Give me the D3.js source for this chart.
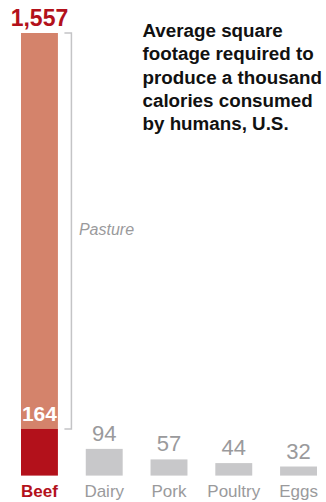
<!DOCTYPE html>
<html>
<head>
<meta charset="utf-8">
<script src="https://cdn.jsdelivr.net/npm/d3@7"></script>
<style>
  html, body { margin: 0; padding: 0; background: #fff; }
  svg { display: block; font-family: "Liberation Sans", Arial, Helvetica, sans-serif; }
</style>
</head>
<body>
<svg id="chart" width="326" height="502"></svg>
<script>
// square feet per 1,000 calories
const categories = ["Beef", "Dairy", "Pork", "Poultry", "Eggs"];
const totals = [1557, 94, 57, 44, 32];
const cropland = [164, 94, 57, 44, 32]; // beef split: cropland part vs pasture
const titleLines = ["Average square", "footage required to", "produce a thousand", "calories consumed", "by humans, U.S."];

const svg = d3.select("#chart");
const baseY = 475.6, topY = 33;

const x = d3.scaleBand()
    .domain(categories)
    .range([21, 317])
    .paddingInner(0.43)
    .paddingOuter(0);

const y = d3.scaleLinear()
    .domain([0, totals[0]])
    .range([baseY, topY]);

const data = categories.map((c, i) => ({ cat: c, total: totals[i], crop: cropland[i] }));
const beef = data[0];

// beef: pasture on top, cropland in red
svg.append("rect")
    .attr("x", x("Beef"))
    .attr("y", y(beef.total))
    .attr("width", x.bandwidth())
    .attr("height", y(beef.crop) - y(beef.total))
    .attr("fill", "#d4836b");

svg.selectAll("rect.bar")
    .data(data)
    .enter()
    .append("rect")
    .attr("class", "bar")
    .attr("x", d => x(d.cat))
    .attr("y", d => y(d.crop))
    .attr("width", x.bandwidth())
    .attr("height", d => baseY - y(d.crop))
    .attr("fill", d => d.cat === "Beef" ? "#b3111b" : "#c8c8ca");

// value labels
svg.selectAll("text.val")
    .data(data.slice(1))
    .enter()
    .append("text")
    .attr("class", "val")
    .attr("x", d => x(d.cat) + x.bandwidth() / 2)
    .attr("y", d => y(d.total) - 8)
    .attr("text-anchor", "middle")
    .attr("font-size", "22px")
    .attr("fill", "#9a9a9c")
    .text(d => d.total);

svg.append("text")
    .attr("x", x("Beef") + x.bandwidth() / 2)
    .attr("y", y(beef.total) - 7)
    .attr("text-anchor", "middle")
    .attr("font-size", "23px")
    .attr("font-weight", "bold")
    .attr("fill", "#b3111b")
    .text(d3.format(",")(beef.total));

svg.append("text")
    .attr("x", x("Beef") + x.bandwidth() / 2)
    .attr("y", y(beef.crop) - 7.5)
    .attr("text-anchor", "middle")
    .attr("font-size", "21px")
    .attr("font-weight", "bold")
    .attr("fill", "#fff")
    .text(beef.crop);

// pasture bracket
const bx = x("Beef") + x.bandwidth() + 13.5;
svg.append("path")
    .attr("d", `M${bx - 7},${y(beef.total)}H${bx}V${y(beef.crop)}H${bx - 7}`)
    .attr("fill", "none")
    .attr("stroke", "#c4c4c6")
    .attr("stroke-width", 1.5);

svg.append("text")
    .attr("x", bx + 7.5)
    .attr("y", 235)
    .attr("font-size", "16px")
    .attr("font-style", "italic")
    .attr("fill", "#9a9a9c")
    .text("Pasture");

// category labels
svg.selectAll("text.cat")
    .data(data)
    .enter()
    .append("text")
    .attr("class", "cat")
    .attr("x", d => x(d.cat) + x.bandwidth() / 2)
    .attr("y", 497.3)
    .attr("text-anchor", "middle")
    .attr("font-size", "17px")
    .attr("font-weight", d => d.cat === "Beef" ? "bold" : "normal")
    .attr("fill", d => d.cat === "Beef" ? "#b3111b" : "#9a9a9c")
    .text(d => d.cat);

// title
svg.append("text")
    .attr("x", 142.5)
    .attr("y", 37)
    .attr("font-size", "18.8px")
    .attr("font-weight", "bold")
    .attr("fill", "#111")
    .selectAll("tspan")
    .data(titleLines)
    .enter()
    .append("tspan")
    .attr("x", 142.5)
    .attr("dy", (d, i) => i === 0 ? 0 : 23.3)
    .text(d => d);
</script>
</body>
</html>
